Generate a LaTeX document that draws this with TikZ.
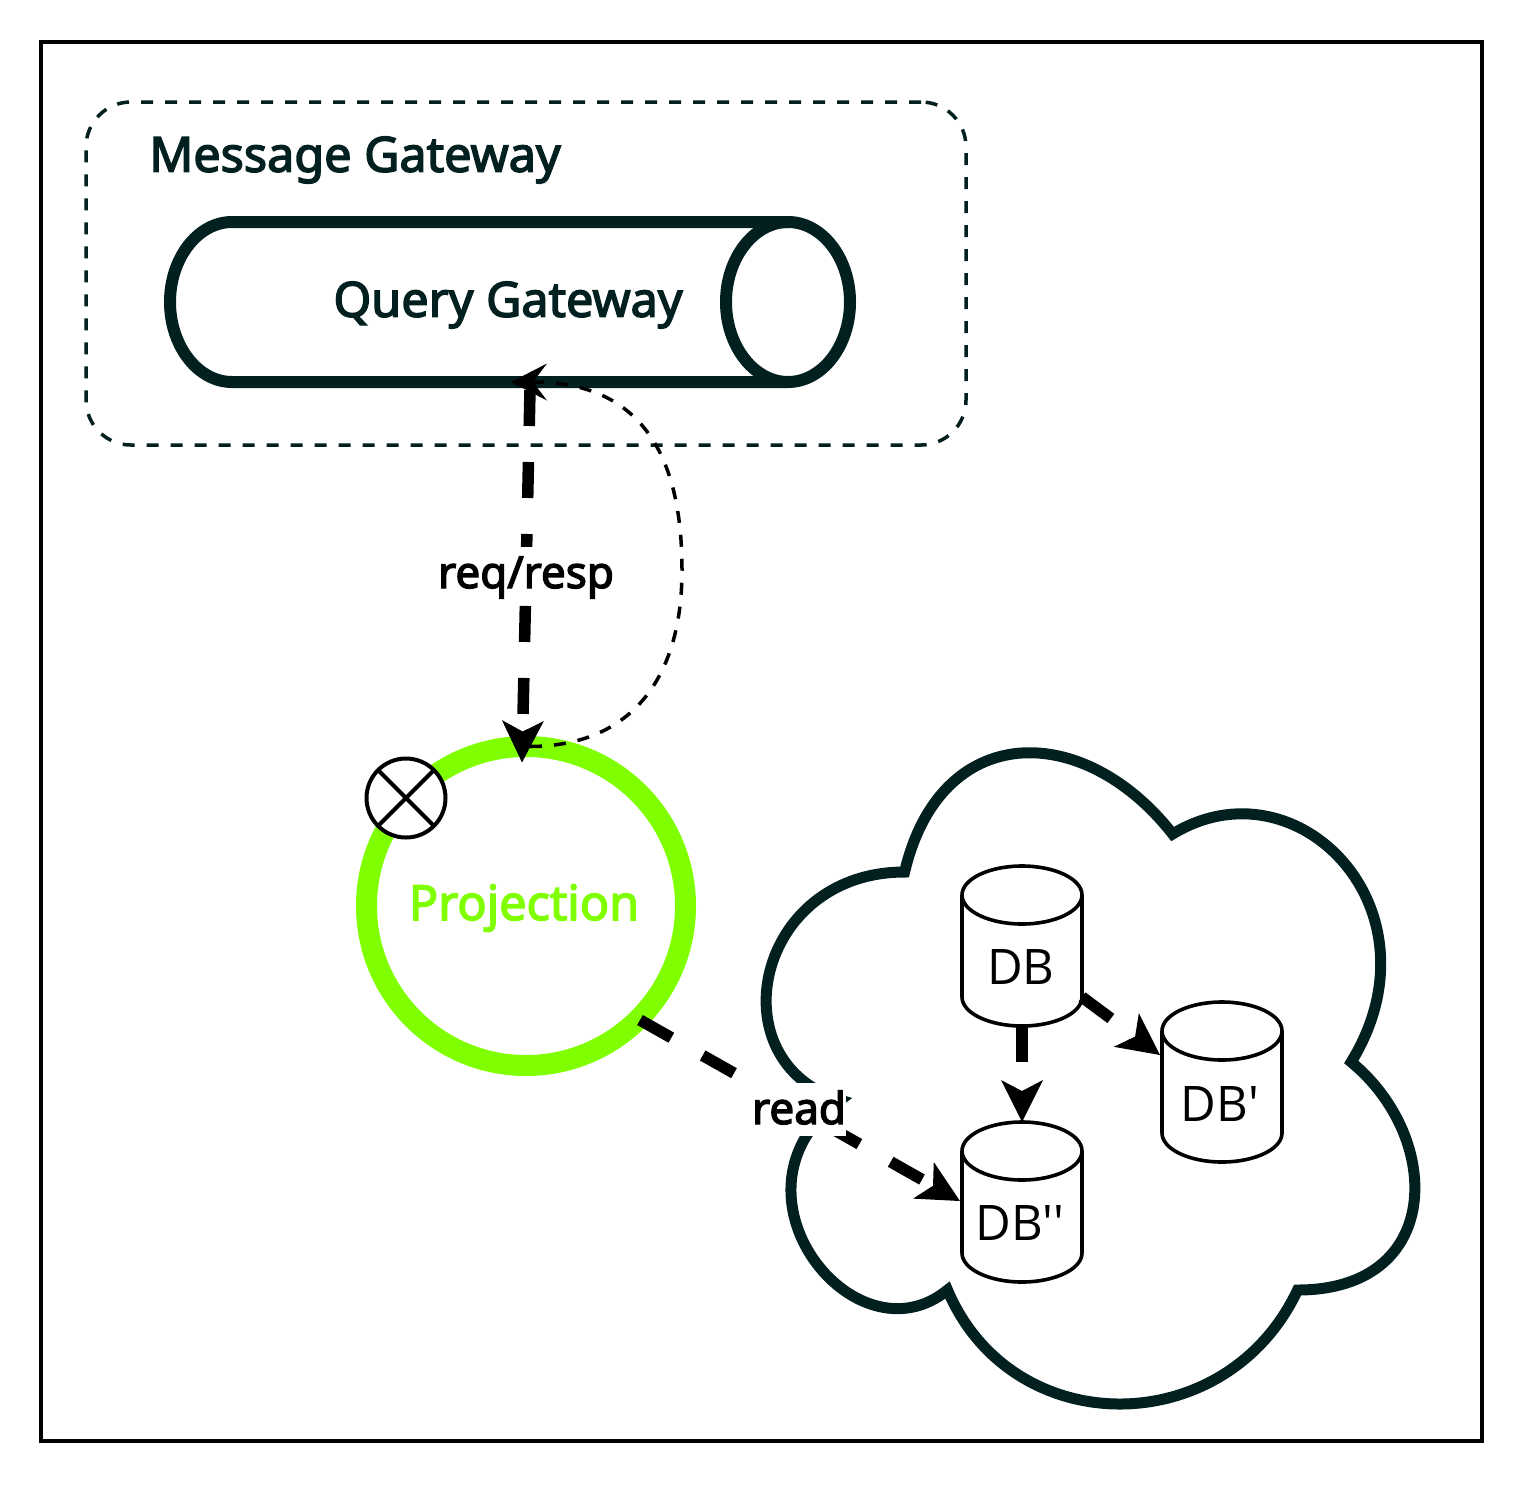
\documentclass[tikz,border=0pt]{standalone}
\usepackage{fontspec}
\usetikzlibrary{arrows.meta,shapes.geometric}
\setmainfont{Noto Sans}
\newfontfamily\inter[FakeBold=3]{Noto Sans}
\newfontfamily\plain{Open Sans}
\definecolor{ink}{HTML}{02201F}
\definecolor{lime}{HTML}{80FF00}
\newcommand{\dbshape}[3]{% centre x, top y, bottom y
  \draw[dbline,fill=white] (#1-60,#2+29)
    .. controls (#1-60,#2+13) and (#1-33,#2) .. (#1,#2)
    .. controls (#1+33,#2) and (#1+60,#2+13) .. (#1+60,#2+29)
    -- (#1+60,#3-29)
    .. controls (#1+60,#3-13) and (#1+33,#3) .. (#1,#3)
    .. controls (#1-33,#3) and (#1-60,#3-13) .. (#1-60,#3-29) -- cycle;
  \draw[dbline] (#1-60,#2+29)
    .. controls (#1-60,#2+45) and (#1-33,#2+58) .. (#1,#2+58)
    .. controls (#1+33,#2+58) and (#1+60,#2+45) .. (#1+60,#2+29);
}
\tikzset{
  x=1pt,y=-1pt,
  dbline/.style={draw=black,line width=3.6pt},
  dbnode/.style={minimum width=120pt,minimum height=160pt,inner sep=0pt,outer sep=0pt,text=black},
  dbtext/.style={inner sep=0pt,text=black,font=\plain\fontsize{49}{58}\selectfont},
  thick dash/.style={line width=11.5pt,dash pattern=on 36pt off 36pt,-{Stealth[length=42pt,width=42pt,inset=11pt,line width=0pt]}},
  flowlabel/.style={fill=white,inner sep=0pt,text height=41pt,text depth=12pt,text=black,font=\inter\fontsize{44}{53}\selectfont},
  gatewaytext/.style={inner sep=0pt,text=ink,font=\inter\fontsize{48.5}{58}\selectfont},
}
\begin{document}
\begin{tikzpicture}
\useasboundingbox (0,0) rectangle (1528,1492);
\fill[white] (0,0) rectangle (1528,1492);
% outer frame
\node[draw=black,line width=4pt,minimum width=1441pt,minimum height=1399pt,inner sep=0pt,outer sep=0pt] (frame) at (761.5,741.5) {};
% message gateway group
\node[draw=ink,line width=3.5pt,dash pattern=on 12pt off 12pt,rounded corners=45pt,minimum width=880pt,minimum height=343pt,inner sep=0pt,outer sep=0pt] (group) at (526,273.5) {};
\node[gatewaytext] (msg) at (355,160) {Message Gateway};
% query gateway cylinder
\draw[ink,line width=12pt,fill=white] (232,222) -- (788,222)
  .. controls (822,222) and (850,258) .. (850,302)
  .. controls (850,346) and (822,382) .. (788,382) -- (232,382)
  .. controls (198,382) and (170,346) .. (170,302)
  .. controls (170,258) and (198,222) .. (232,222) -- cycle;
\draw[ink,line width=12pt] (788,222)
  .. controls (754,222) and (726,258) .. (726,302)
  .. controls (726,346) and (754,382) .. (788,382);
\node[minimum width=680pt,minimum height=160pt,inner sep=0pt,outer sep=0pt] (qg) at (510,302) {};
\node[gatewaytext] (qgt) at (508,305) {Query Gateway};
% projection
\node[circle,draw=lime,line width=21pt,minimum size=319pt,inner sep=0pt,outer sep=0pt] (proj) at (526,906) {};
\node[inner sep=0pt,text=lime,font=\inter\fontsize{48.5}{58}\selectfont] (projt) at (524,908) {Projection};
\node[circle,draw=black,fill=white,line width=4pt,minimum size=79pt,inner sep=0pt,outer sep=0pt] (xc) at (406,798) {};
\draw[black,line width=4pt] (xc.45) -- (xc.225) (xc.135) -- (xc.315);
% cloud
\draw[ink,line width=11pt,line join=miter,fill=white]
  (904.6,872)
  .. controls (755,872) and (716,1062) .. (840.3,1100)
  .. controls (716,1191) and (854.6,1366) .. (947.5,1290)
  .. controls (1011.8,1442) and (1226,1442) .. (1297.6,1290)
  .. controls (1443.5,1290) and (1443.5,1138) .. (1351.2,1062)
  .. controls (1444.5,910) and (1297.6,758) .. (1172.6,834)
  .. controls (1083.3,720) and (940.4,720) .. (904.6,872) -- cycle;
% databases
\dbshape{1022}{866}{1026}
\dbshape{1222}{1002}{1162}
\dbshape{1022}{1122}{1282}
\node[dbnode] (db) at (1022,946) {};
\node[dbnode] (dbp) at (1222,1082) {};
\node[dbnode] (dbpp) at (1022,1202) {};
\node[dbtext] (dbt) at (1021,967) {DB};
\node[dbtext] (dbpt) at (1220,1104) {DB'};
\node[dbtext] (dbppt) at (1020,1223) {DB''};
% connectors
\draw[thick dash] ([shift={(20,8)}]qg.south) -- ([shift={(-4,16)}]proj.north);
\draw[thick dash] ([shift={(114,114)}]proj.center) -- ([shift={(-62,-1)}]dbpp.center);
\draw[thick dash] (db.south) -- (dbpp.north);
\draw[thick dash] ([shift={(60,-29)}]db.south) -- ([shift={(-62,-27)}]dbp.center);
\coordinate (loopa) at ([shift={(4,0)}]proj.north);
\draw[black,line width=3.5pt,dash pattern=on 12pt off 12pt,-{Stealth[length=36pt,width=37pt,inset=14pt,line width=0pt]}]
  (loopa) .. controls (630,746) and (682,680) .. (682,570)
  .. controls (682,465) and (648,382) .. ([shift={(1,0)}]qg.south);
% labels
\node[flowlabel] (lreq) at (526,573.5) {req/resp};
\node[flowlabel] (lread) at (799,1109.5) {read};
\end{tikzpicture}
\end{document}
